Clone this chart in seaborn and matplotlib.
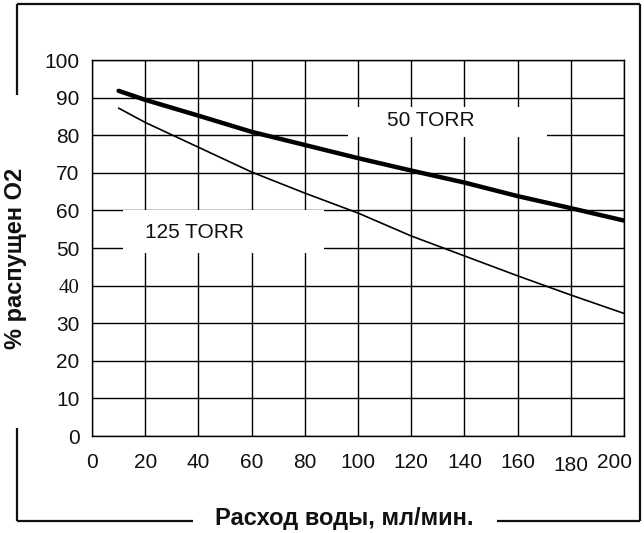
import matplotlib
matplotlib.use("Agg")
import matplotlib.pyplot as plt
import matplotlib.transforms as mtransforms
from matplotlib.lines import Line2D
from matplotlib.patches import Rectangle
import seaborn as sns
import pandas as pd

# ---- data ----
flow = [10, 20, 40, 60, 80, 100, 120, 140, 160, 180, 200]
torr50 = [91.8, 89.4, 85.2, 80.9, 77.4, 73.9, 70.6, 67.4, 63.8, 60.6, 57.3]
torr125 = [87.2, 83.4, 76.8, 70.2, 64.6, 59.3, 53.2, 47.9, 42.6, 37.5, 32.6]
xticks = [0, 20, 40, 60, 80, 100, 120, 140, 160, 180, 200]
yticks = [0, 10, 20, 30, 40, 50, 60, 70, 80, 90, 100]
label50 = "50 TORR"
label125 = "125 TORR"
xlabel = "Расход воды, мл/мин."
ylabel = "% распущен O2"

sns.set_theme(style="white")
plt.rcParams["font.family"] = ["Liberation Sans", "DejaVu Sans"]

fig = plt.figure(figsize=(6.44, 5.33), dpi=100)
ax = fig.add_axes([92 / 644, 1 - 436 / 533, (624 - 92) / 644, (436 - 60) / 533])

df50 = pd.DataFrame({"x": flow, "y": torr50})
df125 = pd.DataFrame({"x": flow, "y": torr125})
sns.lineplot(data=df50, x="x", y="y", ax=ax, color="black", linewidth=3.2, zorder=3)
sns.lineplot(data=df125, x="x", y="y", ax=ax, color="black", linewidth=1.2, zorder=3)

ax.set_xlim(0, 200)
ax.set_ylim(0, 100)
ax.set_xticks(xticks)
ax.set_yticks(yticks)
ax.set_xticklabels([str(v) for v in xticks])
ax.set_yticklabels([str(v) for v in yticks])
ax.get_yticklabels()[4].set_fontfamily(["Liberation Serif", "DejaVu Serif"])

ax.grid(True, color="black", linewidth=1.0)
ax.set_axisbelow(True)
for s in ax.spines.values():
    s.set_color("black")
    s.set_linewidth(1.0)
ax.tick_params(axis="both", which="both", direction="out", length=4, width=1,
               color="black", labelsize=15, labelcolor="#111111")
ax.tick_params(axis="x", pad=8)
ax.tick_params(axis="y", pad=5)
ax.set_xlabel("")
ax.set_ylabel("")

# slight offsets of individual x tick labels as in the reference
xl = ax.get_xticklabels()
xl[9].set_transform(xl[9].get_transform() +
                    mtransforms.ScaledTranslation(0, -3 / 100, fig.dpi_scale_trans))
xl[10].set_transform(xl[10].get_transform() +
                     mtransforms.ScaledTranslation(-9 / 100, 0, fig.dpi_scale_trans))

# white label boxes covering the grid
ax.add_patch(Rectangle((96.2, 79.5), 171 - 96.2, 87.5 - 79.5, facecolor="white",
                       edgecolor="none", zorder=1))
ax.add_patch(Rectangle((11.7, 48.7), 87.2 - 11.7, 60.1 - 48.7, facecolor="white",
                       edgecolor="none", zorder=1))
ax.text(127.3, 83.8, label50, ha="center", va="center", fontsize=15,
        color="#111111", zorder=4)
ax.text(38.5, 54.0, label125, ha="center", va="center", fontsize=15,
        color="#111111", zorder=4)

# axis titles
fig.text(344 / 644, 1 - 519 / 533, xlabel, ha="center", va="center",
         fontsize=17, fontweight="bold", color="#111111")
fig.text(16 / 644, 1 - 258 / 533, ylabel, ha="center", va="center",
         rotation=90, fontsize=17, fontweight="bold", color="#111111")

# outer frame
fc = "#111111"
lw = 1.6
def fl(xs, ys):
    fig.add_artist(Line2D([x / 644 for x in xs], [1 - y / 533 for y in ys],
                          color=fc, linewidth=lw, solid_capstyle="butt"))
fl([17, 640], [4, 4])
fl([17, 17], [4, 95])
fl([17, 17], [428, 521])
fl([17, 193], [521, 521])
fl([497, 640], [521, 521])
fl([640, 640], [4, 521])

fig.savefig("out.png", dpi=100, facecolor="white")
